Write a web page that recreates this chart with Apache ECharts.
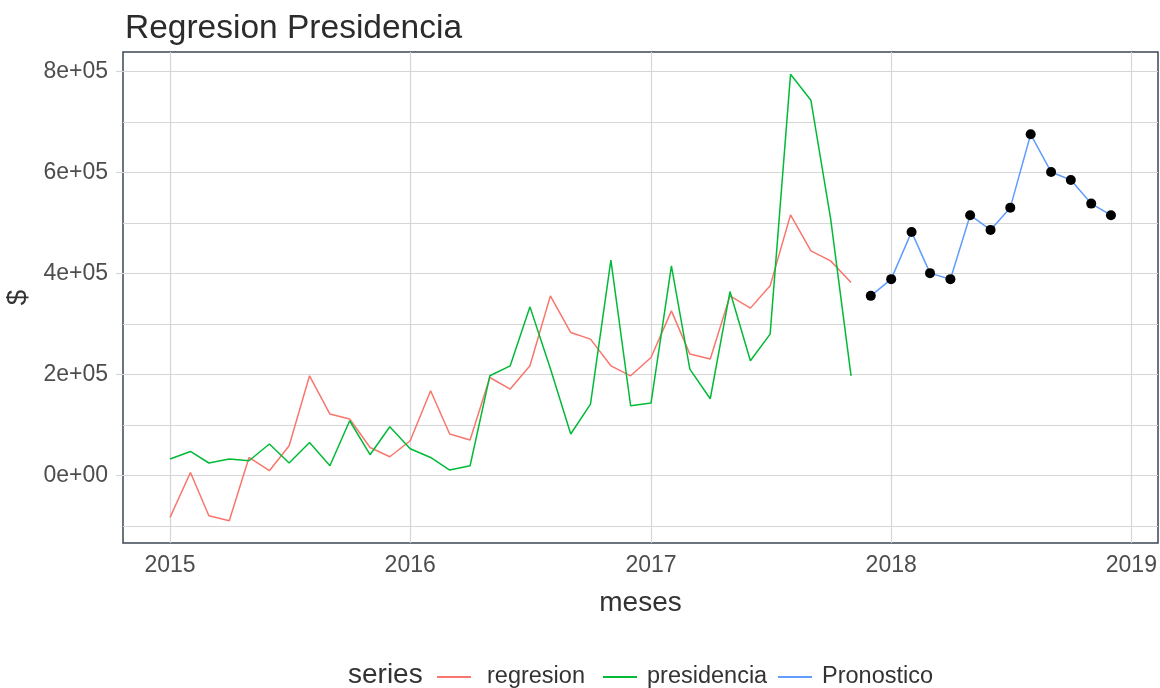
<!DOCTYPE html>
<html>
<head>
<meta charset="utf-8">
<script src="https://cdn.jsdelivr.net/npm/echarts@6/dist/echarts.min.js"></script>
<style>
html,body{margin:0;padding:0;background:#fff;}
#chart{width:1160px;height:688px;}
</style>
</head>
<body>
<div id="chart"></div>
<script>
// ---- data ----
var histMonths = ['2015-01','2015-02','2015-03','2015-04','2015-05','2015-06','2015-07','2015-08','2015-09','2015-10','2015-11','2015-12',
  '2016-01','2016-02','2016-03','2016-04','2016-05','2016-06','2016-07','2016-08','2016-09','2016-10','2016-11','2016-12',
  '2017-01','2017-02','2017-03','2017-04','2017-05','2017-06','2017-07','2017-08','2017-09','2017-10','2017-11'];
var regresion = [-83200, 5900, -79800, -89700, 35600, 9300, 58800, 197400, 121600, 111700, 55400, 37000,
  68700, 167700, 82000, 70100, 194000, 171100, 217200, 355800, 283100, 270100, 217200, 197400,
  233600, 326100, 240400, 230500, 355800, 331500, 375600, 516200, 444900, 425100, 382100];
var presidencia = [32500, 47500, 24600, 32500, 29100, 62200, 24600, 65300, 19200, 108300, 41000, 96400,
  52900, 35600, 10700, 19200, 197400, 217200, 334000, 211900, 82000, 141400, 426500, 138000,
  143400, 415200, 210700, 151900, 364300, 227100, 280000, 794800, 743300, 508300, 197400];
var forecastMonths = ['2017-12','2018-01','2018-02','2018-03','2018-04','2018-05','2018-06','2018-07','2018-08','2018-09','2018-10','2018-11','2018-12'];
var pronostico = [355800, 388900, 482500, 400800, 388900, 515600, 486500, 530600, 676000, 601300, 585500, 538600, 515600];
var yearTicks = [2015, 2016, 2017, 2018, 2019];
var yMajorTicks = [0, 200000, 400000, 600000, 800000];
var yMinorTicks = [-100000, 100000, 300000, 500000, 700000];
var seriesNames = ['regresion', 'presidencia', 'Pronostico'];

// ---- helpers ----
function ts(m) { var p = m.split('-'); return Date.UTC(+p[0], +p[1] - 1, 1); }
function pairs(months, vals) { return months.map(function (m, i) { return [ts(m), vals[i]]; }); }
function sci(v) {
  if (v === 0) return '0e+00';
  var s = v.toExponential(0); var parts = s.split('e');
  var e = parseInt(parts[1], 10); var sign = e < 0 ? '-' : '+';
  var ae = Math.abs(e); return parts[0] + 'e' + sign + (ae < 10 ? '0' + ae : ae);
}

var allX = histMonths.concat(forecastMonths).map(ts);
var xMinD = Math.min.apply(null, allX), xMaxD = Math.max.apply(null, allX);
var xPad = (xMaxD - xMinD) * 0.05;
var allY = regresion.concat(presidencia, pronostico);
var yMinD = Math.min.apply(null, allY), yMaxD = Math.max.apply(null, allY);
var yPad = (yMaxD - yMinD) * 0.05;
var yearTs = yearTicks.map(function (y) { return Date.UTC(y, 0, 1); });

var font = 'Liberation Sans, Arial, sans-serif';
var gridColor = '#d6d6d6';

var chart = echarts.init(document.getElementById('chart'), null, { renderer: 'canvas' });
var lineCommon = { type: 'line', symbol: 'none', showSymbol: false, animation: false, lineStyle: { width: 1.5 } };

var option = {
  animation: false,
  backgroundColor: '#ffffff',
  title: {
    text: 'Regresion Presidencia', left: 120, top: 7,
    textStyle: { fontFamily: font, fontSize: 33.5, fontWeight: 'normal', color: '#2b2b2b' }
  },
  grid: { left: 123, right: 2, top: 52, bottom: 145, show: true, borderColor: '#3b4653', borderWidth: 1.5,
    backgroundColor: 'transparent', outerBoundsMode: 'none', containLabel: false },
  legend: [
    { data: [seriesNames[0]], left: 437, top: 665, gap: 11 },
    { data: [seriesNames[1]], left: 603, top: 665, gap: 5 },
    { data: [seriesNames[2]], left: 778, top: 665, gap: 5 }
  ].map(function (l) {
    l.itemWidth = 34; l.itemHeight = 2; l.padding = 0; l.icon = 'rect';
    l.textStyle = { fontFamily: font, fontSize: 23.5, color: '#333', padding: [0, 0, 0, l.gap] };
    delete l.gap;
    return l;
  }),
  graphic: [{
    type: 'text', left: 348, top: 661,
    style: { text: 'series', fontFamily: font, fontSize: 28, fill: '#333' }
  }],
  xAxis: {
    type: 'value', min: xMinD - xPad, max: xMaxD + xPad,
    name: 'meses', nameLocation: 'middle', nameGap: 46,
    nameTextStyle: { fontFamily: font, fontSize: 28, color: '#333' },
    axisLine: { show: false },
    axisTick: { show: true, length: 5, customValues: yearTs, lineStyle: { color: gridColor, width: 1.2 } },
    axisLabel: { customValues: yearTs, margin: 11, fontFamily: font, fontSize: 23, color: '#4d4d4d',
      formatter: function (v) { return String(new Date(v).getUTCFullYear()); } },
    splitLine: { show: true, lineStyle: { color: gridColor, width: 1.2 } }
  },
  yAxis: [{
    type: 'value', min: yMinD - yPad, max: yMaxD + yPad,
    name: '$', nameLocation: 'middle', nameGap: 88, nameRotate: 90,
    nameTextStyle: { fontFamily: font, fontSize: 28, color: '#333' },
    axisLine: { show: false },
    axisTick: { show: true, length: 7, customValues: yMajorTicks, lineStyle: { color: gridColor, width: 1.2 } },
    axisLabel: { customValues: yMajorTicks, margin: 15, fontFamily: font, fontSize: 23, color: '#4d4d4d', formatter: sci },
    splitLine: { show: true, lineStyle: { color: gridColor, width: 1.2 } }
  }, {
    type: 'value', min: yMinD - yPad, max: yMaxD + yPad, position: 'left',
    axisLine: { show: false },
    axisTick: { show: false, customValues: yMinorTicks },
    axisLabel: { show: false, customValues: yMinorTicks },
    splitLine: { show: true, lineStyle: { color: gridColor, width: 1.2 } }
  }],
  series: [
    Object.assign({}, lineCommon, { name: seriesNames[0], data: pairs(histMonths, regresion), color: '#F8766D', lineStyle: { width: 1.5, color: '#F8766D' }, z: 2 }),
    Object.assign({}, lineCommon, { name: seriesNames[1], data: pairs(histMonths, presidencia), color: '#00BA38', lineStyle: { width: 1.5, color: '#00BA38' }, z: 3 }),
    Object.assign({}, lineCommon, { name: seriesNames[2], data: pairs(forecastMonths, pronostico), color: '#619CFF', lineStyle: { width: 1.5, color: '#619CFF' }, z: 4 }),
    { type: 'scatter', name: 'puntos', data: pairs(forecastMonths, pronostico), symbol: 'circle', symbolSize: 10,
      itemStyle: { color: '#000', opacity: 1 }, z: 5, animation: false }
  ]
};
chart.setOption(option);
</script>
</body>
</html>
